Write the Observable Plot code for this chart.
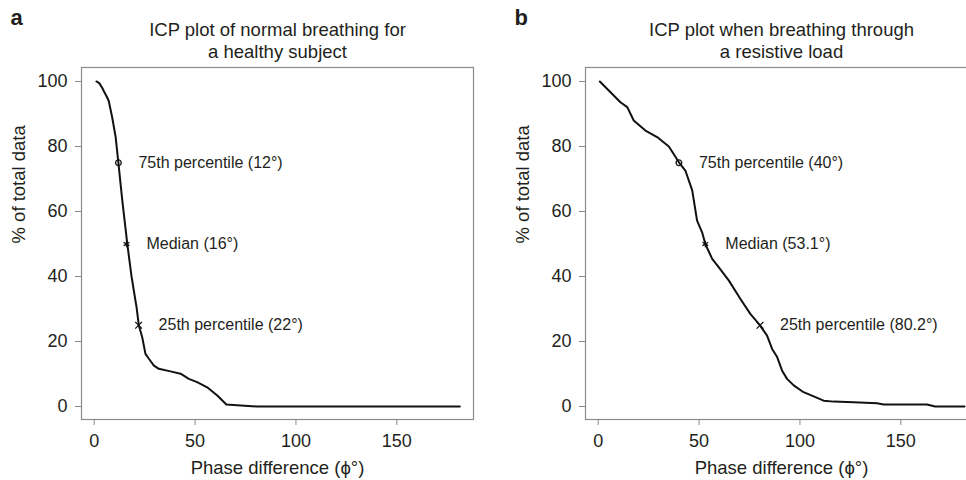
<!DOCTYPE html>
<html>
<head>
<meta charset="utf-8">
<script src="https://cdn.jsdelivr.net/npm/d3@7"></script>
<script src="https://cdn.jsdelivr.net/npm/@observablehq/plot@0.6"></script>
<style>
  html, body { margin: 0; padding: 0; background: #fff; overflow: hidden; }
  #wrap { position: relative; width: 966px; height: 480px; overflow: hidden; }
  #wrap > svg { position: absolute; top: 0; }
</style>
</head>
<body>
<div id="wrap"></div>
<script>
// ---- Data ----
const xTicks = [0, 50, 100, 150];
const yTicks = [0, 20, 40, 60, 80, 100];

// Panel a: normal breathing
const phaseA = [1.1, 2.5, 4.0, 4.8, 6.5, 7.2, 8.9, 10.6, 11.9, 13.9, 16.4, 18.5, 21.0, 22.1, 23.8, 25.4, 27.1, 29.6, 32.0, 37.8, 42.8, 46.9, 51.0, 56.0, 61.0, 65.5, 72.6, 80.8, 181.2];
const pctA   = [100, 99.5, 98.0, 97.0, 95.0, 94.0, 89.0, 83.0, 75.5, 63.5, 50.0, 40.0, 30.5, 25.0, 21.3, 16.2, 14.7, 12.6, 11.6, 10.8, 10.1, 8.5, 7.5, 5.9, 3.4, 0.6, 0.3, 0.0, 0.0];
const markPhaseA = [12, 16, 22];
const markPctA = [75, 50, 25];
const markLabelA = ["75th percentile (12°)", "Median (16°)", "25th percentile (22°)"];

// Panel b: resistive load
const phaseB = [0.8, 6.1, 11.0, 14.4, 17.6, 23.4, 29.2, 35.0, 37.4, 39.9, 43.2, 46.6, 49.0, 51.5, 53.1, 56.5, 59.7, 64.7, 70.5, 75.4, 80.0, 83.7, 86.2, 88.7, 91.1, 93.6, 96.9, 101.8, 106.8, 111.7, 116.7, 126.6, 138.2, 141.5, 163.0, 167.0, 181.6];
const pctB   = [100, 96.7, 93.6, 92.1, 88.0, 84.9, 82.9, 80.0, 77.7, 75.2, 72.6, 66.5, 57.2, 53.6, 50.0, 45.4, 42.9, 38.8, 33.1, 28.5, 25.1, 21.8, 17.7, 15.2, 11.1, 8.5, 6.5, 4.4, 3.1, 1.8, 1.5, 1.3, 1.0, 0.6, 0.6, 0.0, 0.0];
const markPhaseB = [40, 53.1, 80.2];
const markPctB = [75, 50, 25];
const markLabelB = ["75th percentile (40°)", "Median (53.1°)", "25th percentile (80.2°)"];

const markSymbols = ["circle", "asterisk", "times"];
const titleA = "ICP plot of normal breathing for\na healthy subject";
const titleB = "ICP plot when breathing through\na resistive load";
const xLabel = "Phase difference (\u03D5°)";
const yLabel = "% of total data";

const ink = "#231f20";
const axisGray = "#8a8a8a";

function panel(letter, title, phase, pct, mPhase, mPct, mLabel) {
  const line = phase.map((x, i) => ({x, y: pct[i]}));
  const marks = mPhase.map((x, i) => ({x, y: mPct[i], s: markSymbols[i], label: mLabel[i]}));
  return Plot.plot({
    width: 483,
    height: 480,
    marginLeft: 81,
    marginRight: 10,
    marginTop: 67,
    marginBottom: 61,
    style: {fontFamily: "'Liberation Sans', Arial, Helvetica, sans-serif", color: ink, background: "transparent", overflow: "visible"},
    x: {domain: [-6.3, 188]},
    y: {domain: [-4, 104.3]},
    symbol: {type: "identity"},
    marks: [
      Plot.frame({stroke: axisGray, strokeWidth: 1.2}),
      Plot.axisX({ticks: xTicks, tickSize: 6, tickPadding: 9, fontSize: 18, stroke: axisGray, fill: ink, label: null}),
      Plot.axisY({ticks: yTicks, tickSize: 6, tickPadding: 8, fontSize: 18, stroke: axisGray, fill: ink, label: null}),
      Plot.line(line, {x: "x", y: "y", stroke: "#111", strokeWidth: 2}),
      Plot.dot(marks, {x: "x", y: "y", symbol: "s", r: d => d.s === "circle" ? 3.5 : 4.3, stroke: "#111", strokeWidth: 1.3, fill: "none"}),
      Plot.text(marks, {x: "x", y: "y", text: "label", dx: 20, textAnchor: "start", fontSize: 16, fill: ink}),
      Plot.text([title], {frameAnchor: "top", text: d => d, dy: -28, lineAnchor: "middle", lineHeight: 1.2, fontSize: 18.5, fill: ink}),
      Plot.text([letter], {frameAnchor: "top-left", text: d => d, dx: -71, dy: -50, textAnchor: "start", lineAnchor: "middle", fontSize: 22, fontWeight: "bold", fill: ink}),
      Plot.text([xLabel], {frameAnchor: "bottom", text: d => d, dy: 49, lineAnchor: "middle", fontSize: 18.5, fill: ink}),
      Plot.text([yLabel], {frameAnchor: "left", text: d => d, dx: -62, rotate: -90, lineAnchor: "middle", fontSize: 18.5, fill: ink})
    ]
  });
}

const wrap = document.getElementById("wrap");
const a = panel("a", titleA, phaseA, pctA, markPhaseA, markPctA, markLabelA);
a.style.left = "0px";
wrap.appendChild(a);
const b = panel("b", titleB, phaseB, pctB, markPhaseB, markPctB, markLabelB);
b.style.left = "504px";
wrap.appendChild(b);
</script>
</body>
</html>
